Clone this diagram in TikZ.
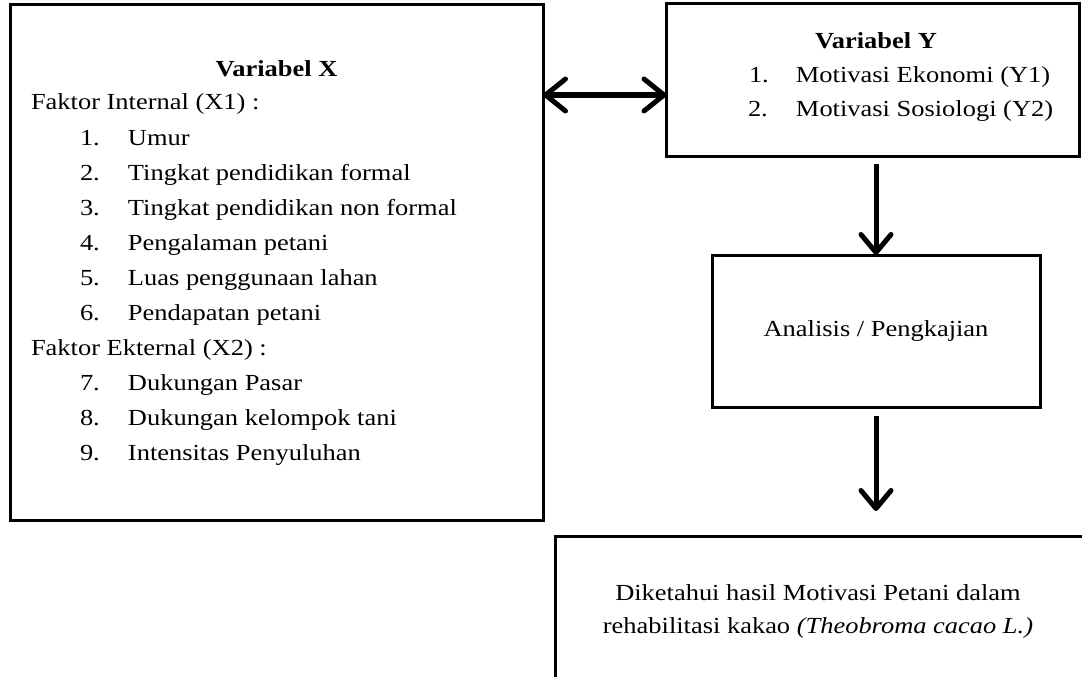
\documentclass[tikz,border=0pt]{standalone}
\usepackage{fontspec}
\setmainfont{Liberation Serif}[FakeStretch=1.15]
\usetikzlibrary{arrows.meta}
\begin{document}
\begin{tikzpicture}[x=1pt,y=-1pt,
  box/.style={draw,line width=3pt,rectangle,inner sep=0pt,outer sep=0pt},
  txt/.style={font=\fontsize{23}{34}\selectfont,inner sep=0pt,outer sep=0pt},
  arr/.style={line width=5pt,-{Straight Barb[length=18pt,width=30pt,round]}},
  dbl/.style={line width=5pt,{Straight Barb[length=20pt,width=32pt,round]}-{Straight Barb[length=20pt,width=32pt,round]}}]
\useasboundingbox (0,0) rectangle (1082,677);
% boxes
\node[box,minimum width=533pt,minimum height=515pt] (X) at (276.5,262.5) {};
\node[box,minimum width=413pt,minimum height=152pt] (Y) at (873,80) {};
\node[box,minimum width=328pt,minimum height=152pt] (A) at (876,331) {};
\node[box,minimum width=530pt,minimum height=150pt] (H) at (820,611) {};
% left box text
\node[txt,anchor=base] (tX) at (276.5,77) {\textbf{Variabel X}};
\node[txt,anchor=base west] (x0) at (31,110) {Faktor Internal (X1) :};
\node[txt,anchor=base west] (x1) at (80,145) {\makebox[48pt][l]{1.}Umur};
\node[txt,anchor=base west] (x2) at (80,180) {\makebox[48pt][l]{2.}Tingkat pendidikan formal};
\node[txt,anchor=base west] (x3) at (80,215) {\makebox[48pt][l]{3.}Tingkat pendidikan non formal};
\node[txt,anchor=base west] (x4) at (80,250) {\makebox[48pt][l]{4.}Pengalaman petani};
\node[txt,anchor=base west] (x5) at (80,285) {\makebox[48pt][l]{5.}Luas penggunaan lahan};
\node[txt,anchor=base west] (x6) at (80,320) {\makebox[48pt][l]{6.}Pendapatan petani};
\node[txt,anchor=base west] (xe) at (31,355) {Faktor Ekternal (X2) :};
\node[txt,anchor=base west] (x7) at (80,390) {\makebox[48pt][l]{7.}Dukungan Pasar};
\node[txt,anchor=base west] (x8) at (80,425) {\makebox[48pt][l]{8.}Dukungan kelompok tani};
\node[txt,anchor=base west] (x9) at (80,460) {\makebox[48pt][l]{9.}Intensitas Penyuluhan};
% Y box text
\node[txt,anchor=base] (tY) at (876,49) {\textbf{Variabel Y}};
\node[txt,anchor=base west] (y1) at (749,83) {\makebox[47pt][l]{1.}Motivasi Ekonomi (Y1)};
\node[txt,anchor=base west] (y2) at (748,117) {\makebox[48pt][l]{2.}Motivasi Sosiologi (Y2)};
% analysis text
\node[txt] (tA) at (A.center) {Analisis / Pengkajian};
% result text
\node[txt,anchor=base] (h1) at (818,600) {Diketahui hasil Motivasi Petani dalam};
\node[txt,anchor=base] (h2) at (818,633) {rehabilitasi kakao \textit{(Theobroma cacao L.)}};
% connectors
\coordinate (ay) at (600,95);
\draw[dbl] (X.east |- ay) -- (Y.west |- ay);
\draw[arr] ([yshift=-8pt]Y.south -| A.north) -- (A.north);
\draw[arr] ([yshift=-9pt]A.south) -- ([yshift=25pt]H.north -| A.south);
\end{tikzpicture}
\end{document}
